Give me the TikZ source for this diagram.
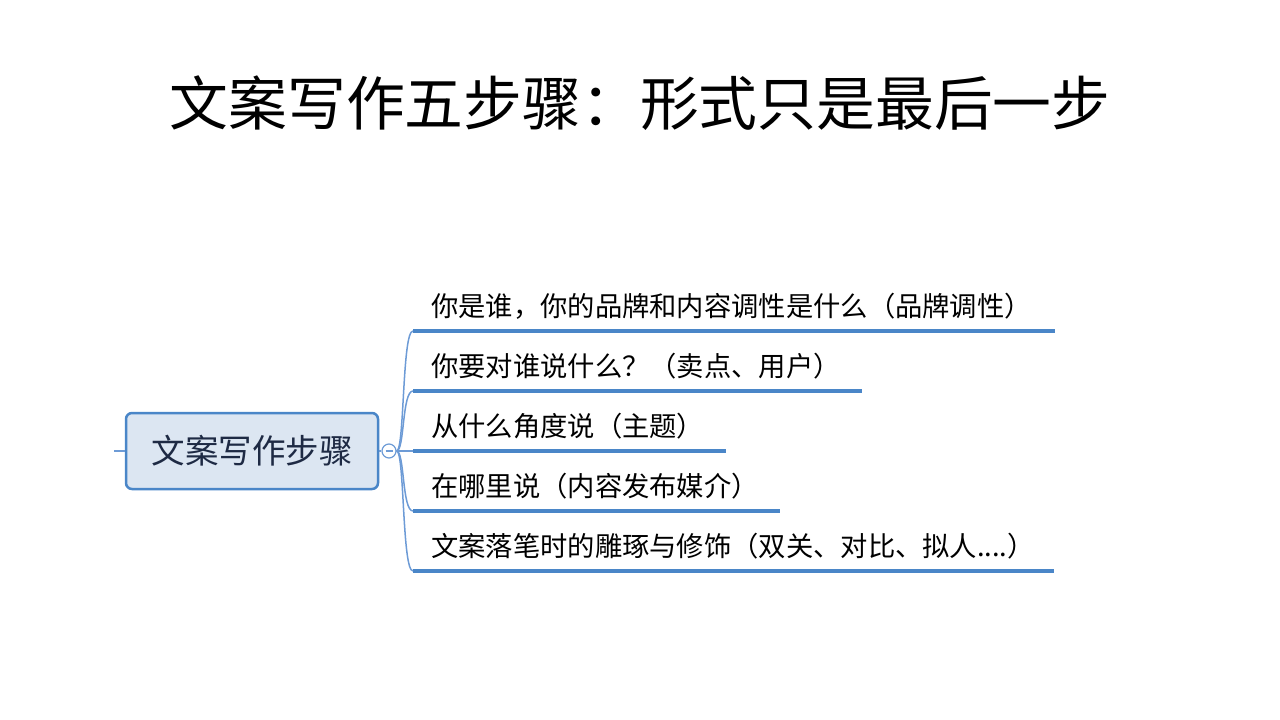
\documentclass[tikz,border=0pt]{standalone}
\usepackage{fontspec}
\setmainfont{Noto Sans CJK SC}
\definecolor{lineblue}{HTML}{4A86C8}
\definecolor{branchblue}{HTML}{6D9BD6}
\definecolor{rootfill}{HTML}{DCE6F2}
\definecolor{roottext}{HTML}{1E2A44}
\tikzset{
  rootbox/.style={draw=lineblue, line width=2.5pt, fill=rootfill, rounded corners=6pt,
    minimum width=252pt, minimum height=76pt, text=roottext,
    font=\fontsize{33.5}{40}\selectfont},
  knob/.style={draw=branchblue, line width=1.2pt, fill=white, circle, minimum size=14pt, inner sep=0pt},
  branch/.style={draw=branchblue, line width=1.5pt},
  underline/.style={draw=lineblue, line width=4pt},
  item/.style={anchor=west, inner sep=0pt, font=\fontsize{27.3}{33}\selectfont}
}
\begin{document}
\begin{tikzpicture}[x=1pt,y=-1pt]
  \useasboundingbox (0,0) rectangle (1280,720);
  \node (title) at (640,103) {\fontsize{58.8}{70}\selectfont 文案写作五步骤：形式只是最后一步};
  \node[rootbox] (root) at (252,451) {文案写作步骤};
  \node[knob] (knob) at (389,451) {};
  \coordinate (stub) at (114,451);
  \draw
    (413,331) coordinate (a1) (1055,331) coordinate (b1)
    (413,391) coordinate (a2) (862,391) coordinate (b2)
    (413,451) coordinate (a3) (726,451) coordinate (b3)
    (413,511) coordinate (a4) (780,511) coordinate (b4)
    (413,571) coordinate (a5) (1054,571) coordinate (b5);
  \node[item] (1) at (431,306) {你是谁，你的品牌和内容调性是什么（品牌调性）};
  \node[item] (2) at (431,366) {你要对谁说什么？（卖点、用户）};
  \node[item] (3) at (431,426) {从什么角度说（主题）};
  \node[item] (4) at (431,486) {在哪里说（内容发布媒介）};
  \node[item] (5) at (431,546) {文案落笔时的雕琢与修饰（双关、对比、拟人....）};
  \begin{scope}[branch]
    \draw (stub) -- (root.west);
    \draw (root.east) -- (knob.west);
    \draw ([xshift=-3.5pt]knob.center) -- ([xshift=3.5pt]knob.center);
    \draw (knob.east) .. controls +(8,0) and +(-11,0) .. (a1);
    \draw (knob.east) .. controls +(8,0) and +(-11,0) .. (a2);
    \draw (knob.east) -- (a3);
    \draw (knob.east) .. controls +(8,0) and +(-11,0) .. (a4);
    \draw (knob.east) .. controls +(8,0) and +(-11,0) .. (a5);
  \end{scope}
  \begin{scope}[underline]
    \draw (a1) -- (b1);
    \draw (a2) -- (b2);
    \draw (a3) -- (b3);
    \draw (a4) -- (b4);
    \draw (a5) -- (b5);
  \end{scope}
\end{tikzpicture}
\end{document}
